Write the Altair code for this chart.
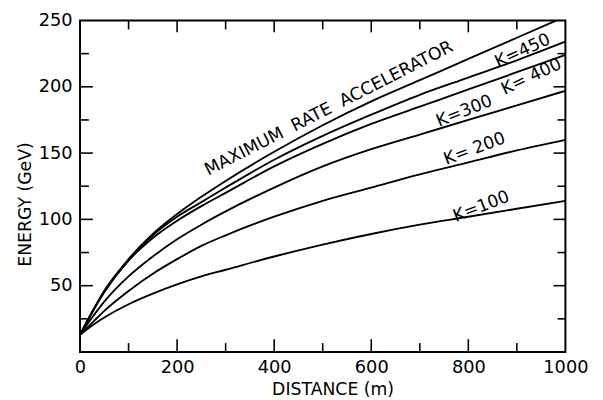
import altair as alt
import pandas as pd

# ---- data ----
distance = [0, 25, 50, 100, 150, 200, 250, 300, 400, 500, 600, 700, 800, 900, 1000]
k100 = [13, 20, 26, 36, 44, 51, 57, 62, 72, 81, 89, 96, 102, 108, 114]
k200 = [13, 22, 31, 46, 59, 70, 80, 88, 102, 114, 124, 134, 143, 152, 160]
k300 = [13, 26, 38, 57, 72, 85, 96, 106, 124, 140, 153, 164, 175, 186, 197]
k400 = [13, 30, 45, 69, 86, 99, 110, 120, 140, 157, 172, 185, 198, 211, 224]
k450 = [13, 30, 46, 69, 88, 102, 113, 124, 145, 163, 179, 194, 207, 220, 234]
kmax = [13, 30, 46, 70, 89, 104, 117, 129, 151, 171, 189, 205, 221, 237, 253]

series_names = ["K=100", "K=200", "K=300", "K=400", "K=450", "MAX"]
series_values = [k100, k200, k300, k400, k450, kmax]

label_text = ["MAXIMUM\u00a0 RATE\u00a0 ACCELERATOR", "K=450", "K= 400", "K=300", "K= 200", "K=100"]
label_dist = [513, 912, 930, 792, 813, 827]
label_energy = [183.5, 227, 207.5, 181.5, 153, 109.5]
label_angle = [333, 335.5, 335, 338, 339.5, 339]

x_major_ticks = [200, 400, 600, 800]
x_minor_ticks = [100, 300, 500, 700, 900]
y_major_ticks = [50, 100, 150, 200]
y_minor_ticks = [25, 75, 125, 175, 225]
x_labels = [0, 200, 400, 600, 800, 1000]
y_labels = [50, 100, 150, 200, 250]

W, H = 492, 336
FONT = "DejaVu Sans"

rows = []
for name, vals in zip(series_names, series_values):
    for d, e in zip(distance, vals):
        rows.append({"series": name, "distance": d, "energy": e})
lines_df = pd.DataFrame(rows)

labels_df = pd.DataFrame({"text": label_text, "distance": label_dist,
                          "energy": label_energy, "angle": label_angle})

xscale = alt.Scale(domain=[0, 1000], nice=False, zero=False)
yscale = alt.Scale(domain=[0, 250], nice=False, zero=False)

xaxis = alt.Axis(title="DISTANCE (m)", values=x_labels, format="d", ticks=False, tickSize=0,
                 domain=False, grid=False, labelPadding=7, labelFontSize=18,
                 labelFont=FONT, labelColor="black", titleFont=FONT,
                 titleFontSize=17.5, titleFontWeight="normal", titleColor="black",
                 titleX=256, titleY=43, titleBaseline="alphabetic",
                 titleAlign="center", labelFlush=False)
yaxis = alt.Axis(title="ENERGY (GeV)", values=y_labels, format="d", ticks=False, tickSize=0,
                 domain=False, grid=False, labelPadding=8, labelFontSize=18,
                 labelFont=FONT, labelColor="black", titleFont=FONT,
                 titleFontSize=17.5, titleFontWeight="normal", titleColor="black",
                 titleX=-55, titleY=186, titleAngle=270, titleAlign="center",
                 titleBaseline="middle", labelFlush=False)

lines = alt.Chart(lines_df).mark_line(color="black", strokeWidth=1.9, clip=True,
                                      interpolate="monotone").encode(
    x=alt.X("distance:Q", scale=xscale, axis=xaxis),
    y=alt.Y("energy:Q", scale=yscale, axis=yaxis),
    detail="series:N",
)

texts = alt.Chart(labels_df).mark_text(font=FONT, fontSize=17.5, color="black",
                                       align="center", baseline="middle").encode(
    x=alt.X("distance:Q", scale=xscale, axis=xaxis),
    y=alt.Y("energy:Q", scale=yscale, axis=yaxis),
    text="text:N",
    angle=alt.Angle("angle:Q", scale=None),
)


def xticks(vals, length, top):
    df = pd.DataFrame({"distance": vals})
    if top:
        yv, y2v = 0, length
    else:
        yv, y2v = H, H - length
    return alt.Chart(df).mark_rule(color="black", strokeWidth=1.6).encode(
        x=alt.X("distance:Q", scale=xscale, axis=xaxis),
        y=alt.value(yv), y2=alt.value(y2v))


def yticks(vals, length, right):
    df = pd.DataFrame({"energy": vals})
    if right:
        xv, x2v = W, W - length
    else:
        xv, x2v = 0, length
    return alt.Chart(df).mark_rule(color="black", strokeWidth=1.6).encode(
        y=alt.Y("energy:Q", scale=yscale, axis=yaxis),
        x=alt.value(xv), x2=alt.value(x2v))


ticks = [
    xticks(x_major_ticks, 13, False), xticks(x_minor_ticks, 9, False),
    xticks(x_major_ticks, 12, True), xticks(x_minor_ticks, 9, True),
    yticks(y_major_ticks, 13, False), yticks(y_minor_ticks, 9, False),
    yticks(y_major_ticks, 12, True), yticks(y_minor_ticks, 8, True),
]

chart = alt.layer(lines, texts, *ticks).properties(
    width=W, height=H,
    autosize=alt.AutoSizeParams(type="none"),
    padding={"left": 73, "top": 10, "right": 30, "bottom": 46},
    background="white",
).configure_view(stroke="black", strokeWidth=2)

chart.save("out.html", embed_options={"renderer": "svg", "actions": False})
